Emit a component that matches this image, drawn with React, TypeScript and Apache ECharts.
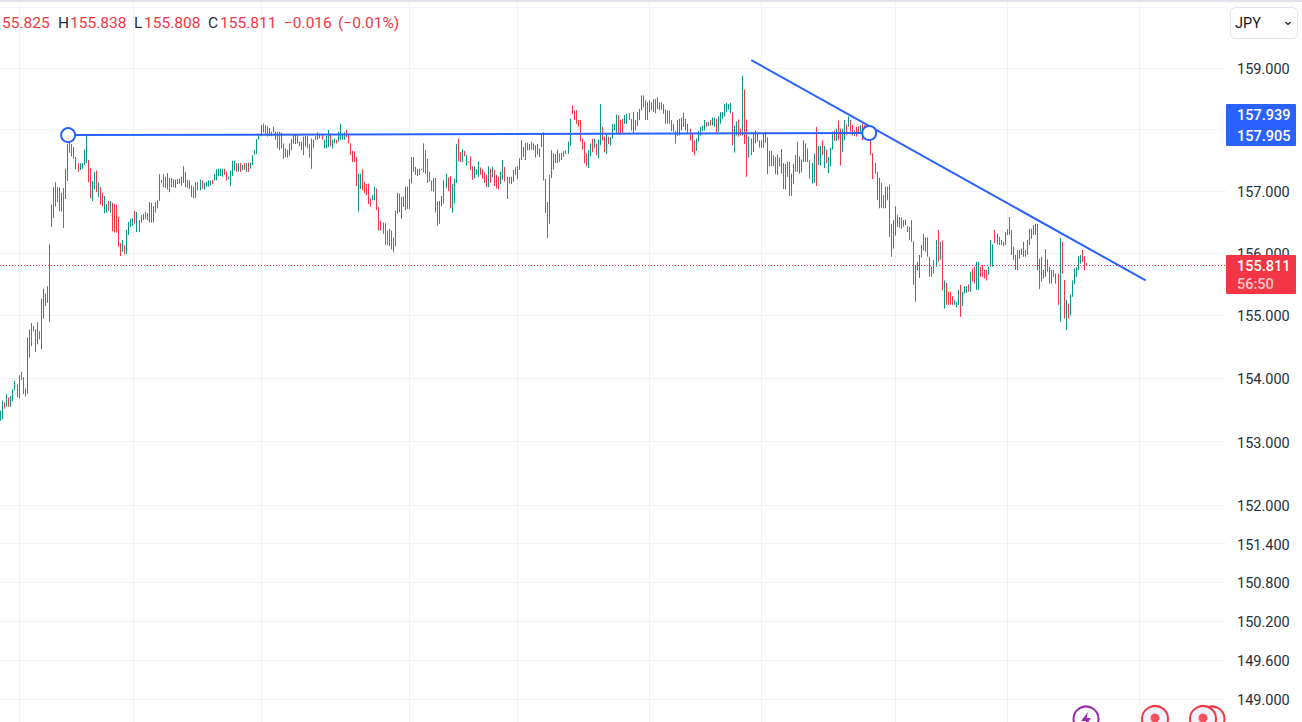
import React, { useEffect, useRef } from "react";
import * as echarts from "echarts";

const highs = [
  153.49,153.65,153.62,153.75,153.70,153.72,153.83,153.96,153.90,154.05,
  154.10,154.02,153.84,154.65,154.78,154.88,154.83,154.78,154.89,154.75,
  155.27,155.43,155.35,155.47,156.14,156.78,157.06,157.14,157.06,157.06,
  156.97,157.05,157.36,157.76,157.78,157.76,157.71,157.55,157.45,157.45,
  157.45,157.67,157.90,157.50,157.37,157.16,157.31,157.33,157.14,157.06,
  156.97,156.92,156.79,156.84,156.84,156.81,156.79,156.78,156.58,156.16,
  156.21,156.13,156.37,156.50,156.55,156.56,156.68,156.66,156.53,156.61,
  156.63,156.66,156.64,156.82,156.81,156.75,156.82,156.85,157.27,157.18,
  157.27,157.23,157.29,157.21,157.21,157.19,157.18,157.19,157.20,157.23,
  157.40,157.31,157.18,157.17,157.09,157.07,157.14,157.14,157.18,157.17,
  157.13,157.15,157.17,157.17,157.18,157.28,157.35,157.36,157.36,157.36,
  157.36,157.31,157.23,157.33,157.49,157.49,157.45,157.45,157.45,157.42,
  157.45,157.45,157.46,157.46,157.58,157.66,157.84,157.93,158.07,158.09,
  158.07,158.05,158.02,157.96,158.04,157.96,157.96,157.96,157.95,157.77,
  157.69,157.67,157.77,157.84,157.91,157.91,157.91,157.80,157.80,157.88,
  157.89,157.89,157.76,157.85,157.83,157.89,157.95,157.93,157.91,157.83,
  157.89,157.99,157.93,157.83,157.85,157.83,157.96,158.09,157.93,157.95,
  157.99,157.91,157.77,157.65,157.64,157.55,157.28,157.28,157.35,157.15,
  157.11,157.12,156.88,156.93,157.07,157.04,156.74,156.52,156.49,156.48,
  156.36,156.39,156.36,156.25,156.68,156.97,156.96,156.90,156.91,157.07,
  157.07,157.19,157.55,157.55,157.39,157.36,157.36,157.36,157.77,157.66,
  157.52,157.31,157.17,157.21,157.21,156.83,156.84,156.92,157.17,157.28,
  157.22,157.24,157.11,157.20,157.76,157.85,157.63,157.68,157.65,157.58,
  157.48,157.56,157.40,157.40,157.35,157.48,157.38,157.35,157.30,157.26,
  157.40,157.36,157.39,157.34,157.26,157.23,157.31,157.50,157.39,157.23,
  157.23,157.23,157.34,157.39,157.40,157.53,157.82,157.71,157.78,157.78,
  157.76,157.80,157.77,157.74,157.76,157.69,157.92,157.95,157.20,156.82,
  157.26,157.66,157.61,157.60,157.67,157.61,157.62,157.65,157.66,157.80,
  158.17,158.39,158.31,158.31,158.15,158.15,157.85,157.80,157.61,157.66,
  157.77,157.85,157.85,157.77,157.83,158.41,158.04,157.88,157.93,157.88,
  157.87,158.09,158.09,158.24,158.23,158.15,158.17,158.23,158.25,158.26,
  158.17,158.28,158.15,158.28,158.33,158.55,158.55,158.47,158.44,158.47,
  158.44,158.49,158.49,158.52,158.44,158.44,158.41,158.32,158.31,158.30,
  158.15,158.09,157.97,158.15,158.17,158.19,158.27,158.17,158.09,158.01,
  157.93,157.82,157.85,157.97,158.04,158.06,158.15,158.12,158.12,158.15,
  158.19,158.19,158.17,158.21,158.28,158.28,158.41,158.43,158.41,158.43,
  158.28,158.06,158.13,158.16,158.01,158.87,158.65,158.16,157.88,157.85,
  157.93,157.98,157.93,157.82,157.82,157.94,157.96,157.87,157.65,157.65,
  157.58,157.55,157.59,157.54,157.68,157.45,157.44,157.47,157.47,157.28,
  157.44,157.58,157.80,157.56,157.51,157.82,157.77,157.69,157.50,157.45,
  157.61,158.04,157.73,157.73,157.82,157.73,157.67,157.55,157.70,157.96,
  157.98,158.01,158.14,158.01,158.01,158.15,158.08,158.21,158.15,158.07,
  157.98,158.04,158.05,158.07,158.09,158.07,158.07,158.01,157.82,157.61,
  157.45,157.31,157.21,157.13,156.93,157.07,157.07,157.10,156.47,156.53,
  156.75,156.61,156.58,156.57,156.53,156.54,156.43,156.42,156.53,156.19,
  155.81,155.86,155.97,156.13,156.31,156.25,156.25,155.94,155.78,155.89,
  156.21,156.37,156.18,156.20,155.56,155.52,155.38,155.38,155.31,155.25,
  155.22,155.41,155.49,155.38,155.47,155.47,155.50,155.70,155.75,155.78,
  155.86,155.86,155.78,155.81,155.73,155.73,155.78,156.21,156.14,156.37,
  156.31,156.26,156.21,156.18,156.34,156.38,156.58,156.37,156.10,155.97,
  156.05,156.05,156.07,156.18,156.05,156.21,156.39,156.39,156.45,156.47,
  156.47,155.91,155.94,155.73,156.06,155.90,155.78,155.73,155.73,155.67,
  155.67,156.24,156.18,155.57,155.25,155.19,155.33,155.56,155.75,155.77,
  155.95,155.97,156.05,155.95,155.84,
];

const lows = [
  153.33,153.35,153.52,153.55,153.55,153.55,153.64,153.81,153.70,153.68,
  153.97,153.75,153.71,153.75,154.33,154.51,154.75,154.42,154.54,154.62,
  154.46,154.95,155.15,155.20,154.90,156.42,156.56,156.75,156.82,156.67,
  156.67,156.40,156.87,157.16,157.62,157.56,157.52,157.35,157.31,157.34,
  157.36,157.42,157.45,157.14,156.88,156.84,157.03,156.98,156.90,156.78,
  156.75,156.64,156.65,156.68,156.65,156.35,156.33,156.33,156.10,155.95,
  156.02,155.98,155.98,156.29,156.42,156.44,156.47,156.34,156.34,156.49,
  156.53,156.55,156.53,156.49,156.49,156.49,156.65,156.72,156.84,157.13,
  157.06,157.05,157.02,156.98,157.06,157.06,157.05,157.11,157.12,157.09,
  157.13,157.06,157.05,157.03,156.90,156.88,156.89,157.01,157.01,157.04,
  157.02,157.07,157.07,157.09,157.11,157.17,157.17,157.24,157.24,157.23,
  157.26,157.17,157.19,157.08,157.24,157.33,157.31,157.31,157.31,157.34,
  157.34,157.31,157.31,157.36,157.42,157.59,157.60,157.83,157.89,157.95,
  157.93,157.88,157.89,157.89,157.95,157.83,157.69,157.66,157.69,157.52,
  157.55,157.54,157.57,157.66,157.77,157.76,157.77,157.72,157.66,157.58,
  157.72,157.69,157.54,157.36,157.69,157.83,157.83,157.85,157.83,157.69,
  157.69,157.71,157.72,157.69,157.77,157.77,157.80,157.83,157.83,157.83,
  157.87,157.77,157.58,157.47,157.47,157.08,156.67,157.03,157.01,156.96,
  156.93,156.79,156.75,156.85,156.85,156.69,156.36,156.36,156.31,156.13,
  156.13,156.11,156.06,156.01,156.11,156.63,156.66,156.55,156.74,156.69,
  156.71,156.71,157.12,157.31,157.26,157.24,157.26,157.34,157.30,157.28,
  157.13,157.15,157.00,156.99,156.65,156.44,156.47,156.75,156.80,157.04,
  157.00,156.72,156.65,156.80,157.13,157.48,157.47,157.47,157.56,157.41,
  157.46,157.34,157.18,157.20,157.26,157.23,157.26,157.20,157.13,157.06,
  157.06,157.13,157.22,157.08,157.04,157.03,157.11,157.18,157.15,156.87,
  157.12,157.11,157.15,157.26,157.19,157.34,157.50,157.55,157.50,157.66,
  157.66,157.67,157.66,157.54,157.59,157.55,157.71,157.17,156.64,156.24,
  156.47,157.21,157.35,157.45,157.45,157.47,157.50,157.55,157.60,157.60,
  157.73,158.25,158.15,158.09,158.04,157.80,157.67,157.45,157.40,157.37,
  157.56,157.63,157.69,157.58,157.53,157.74,157.82,157.63,157.60,157.76,
  157.74,157.85,157.98,157.92,157.91,157.93,157.93,158.09,158.09,158.15,
  157.98,157.93,157.98,158.05,158.15,158.31,158.36,158.15,158.15,158.28,
  158.31,158.28,158.26,158.33,158.31,158.32,158.25,158.09,158.09,158.09,
  157.97,157.96,157.77,157.89,157.90,157.98,158.04,157.98,157.93,157.82,
  157.63,157.58,157.65,157.80,157.90,157.97,157.98,158.04,158.05,158.06,
  158.06,158.04,157.92,157.96,158.09,158.17,158.21,158.28,158.32,158.26,
  157.74,157.62,157.90,157.88,157.90,157.90,157.76,157.23,157.54,157.58,
  157.63,157.77,157.80,157.70,157.70,157.70,157.78,157.27,157.40,157.40,
  157.40,157.27,157.26,157.40,157.28,157.03,157.02,157.23,156.92,156.92,
  157.11,157.31,157.31,157.28,157.30,157.47,157.47,157.47,157.20,157.12,
  157.13,157.08,157.42,157.41,157.58,157.37,157.45,157.29,157.40,157.67,
  157.81,157.81,157.83,157.41,157.63,157.82,157.90,158.04,157.96,157.90,
  157.89,157.88,157.92,157.96,157.82,157.90,157.90,157.88,157.58,157.19,
  157.28,156.85,156.72,156.73,156.72,156.72,156.85,156.26,155.94,156.07,
  156.28,156.42,156.41,156.39,156.42,156.45,156.34,156.21,156.18,155.49,
  155.22,155.72,155.60,155.93,156.04,156.02,155.94,155.62,155.62,155.67,
  155.78,155.86,155.89,155.40,155.11,155.17,155.17,155.17,155.17,155.17,
  155.13,155.17,154.98,155.15,155.35,155.36,155.38,155.38,155.54,155.51,
  155.41,155.41,155.62,155.62,155.59,155.56,155.65,155.78,155.78,156.16,
  156.14,156.13,156.13,156.11,156.13,156.29,156.29,155.97,155.89,155.73,
  155.72,155.91,155.97,155.94,155.94,155.97,156.13,156.23,156.29,156.29,
  155.72,155.42,155.54,155.59,155.62,155.70,155.51,155.51,155.62,155.51,
  155.17,154.90,155.67,154.95,154.77,154.95,155.00,155.30,155.50,155.62,
  155.72,155.83,155.86,155.72,155.81,
];

// g = rising bar, r = falling bar
const directions = [
  "ggrgrgggrg","rrrggrrrgr","gggrggggrr","grgggrrrrg","gggrrggrgr",
  "rggrgrrrrr","grggggrggr","grggrgrggg","rgrrrrgggr","grrrrrgrgr",
  "ggggrggggg","rrggggrgrg","rgrggggggr","rrgrggrrrr","grgggggrgg",
  "grrgrggrrg","ggrggrgggg","rrrrrrggrr","rrrggrrrrr","rgrrggrggg",
  "rggrrgggrr","rrrgrggggg","rrgggrrgrg","rrrgggrrrr","grgrrrggrr",
  "rggrgggggr","grgggggrrr","gggrgrgrrg","grrrrrrrrg","grgrggrrgr",
  "ggggrrrggr","rgrrgggrgg","ggggrrrgrr","rrrgggrgrr","rrgggggrgr",
  "ggrggggggg","rggrrgrrgr","ggrrggrrgr","grgggrgrrg","ggrggggrrg",
  "grggrgrggg","rgrrggrgrr","grrgrrggrr","rrgrrgrrrg","grrrrgrrrr",
  "ggggrgrrrr","grgrgrrrrg","ggrgggrgrr","ggrrrrgggr","rrggggrrrr",
  "rgggrggggg","rrgggrrgrg","rgrrgrgggg","ggrrr",
].join("");

const lastClose = 155.811;
const priceMin = 148.647;
const priceMax = 160.117;
const gridTicks = [149, 149.6, 150.2, 150.8, 151.4, 152, 153, 154, 155, 156, 157, 158, 159, 160];
const labelTicks = [149, 149.6, 150.2, 150.8, 151.4, 152, 153, 154, 155, 156, 157, 159];
const verticalGridBars = [9, 65, 128, 201, 254, 319, 374, 440, 495, 560];
const rightPadBars = 68;

const supportLine = [[33, 157.905], [427, 157.939]];
const resistanceLine = [[369, 159.13], [563, 155.56]];

const legendTexts = [
  { text: "55.825", x: 2, color: "#f23645" },
  { text: "H", x: 58, color: "#2a2e39" },
  { text: "155.838", x: 70, color: "#f23645" },
  { text: "L", x: 134, color: "#2a2e39" },
  { text: "155.808", x: 144, color: "#f23645" },
  { text: "C", x: 208, color: "#2a2e39" },
  { text: "155.811", x: 220, color: "#f23645" },
  { text: "\u22120.016", x: 284, color: "#f23645" },
  { text: "(\u22120.01%)", x: 338, color: "#f23645" },
];

const FONT = "Roboto, sans-serif";
const BLUE = "#2962ff";
const RED = "#f23645";
const GREEN = "#089981";
const GRID = "#f0f3fa";

echarts.graphic.registerShape(
  "bolt",
  echarts.graphic.extendPath("M7 0L0 9L5 9L3 16L10 6L5.5 6Z", {}) as any
);

export default function App() {
  const ref = useRef<HTMLDivElement>(null);

  useEffect(() => {
    const chart = echarts.init(ref.current!, undefined, { renderer: "svg" });
    const total = highs.length + rightPadBars;
    const categories = Array.from({ length: total }, (_, i) => String(i));
    const candles = highs.map((h, i) =>
      directions[i] === "g" ? [lows[i], h, lows[i], h] : [h, lows[i], lows[i], h]
    );
    const vset = new Set(verticalGridBars);

    const tagText = (text: string, x: number, y: number, fill = "#ffffff") => ({
      type: "text",
      z: 20,
      x,
      y,
      style: { text, fill, font: `500 14.5px ${FONT}`, textAlign: "left", textVerticalAlign: "middle" },
    });

    chart.setOption({
      animation: false,
      backgroundColor: "#ffffff",
      grid: { left: 0, right: 76, top: 0, bottom: 0, containLabel: false },
      xAxis: {
        type: "category",
        data: categories,
        axisLine: { show: false },
        axisTick: { show: false },
        axisLabel: { show: false },
        splitLine: {
          show: true,
          alignWithLabel: true,
          interval: (i: number) => vset.has(i),
          lineStyle: { color: GRID, width: 1 },
        },
      },
      yAxis: {
        type: "log",
        logBase: 10,
        position: "right",
        min: priceMin,
        max: priceMax,
        axisLine: { show: false },
        axisTick: { show: false, customValues: gridTicks },
        axisLabel: {
          customValues: labelTicks,
          margin: 11,
          verticalAlign: "top",
          lineHeight: 3,
          color: "#2a2e39",
          fontFamily: FONT,
          fontSize: 14.5,
          formatter: (v: number) => v.toFixed(3),
        },
        splitLine: { show: true, lineStyle: { color: GRID, width: 1 } },
      },
      series: [
        {
          type: "candlestick",
          data: candles,
          barWidth: 1,
          z: 3,
          itemStyle: { color: GREEN, color0: RED, borderColor: GREEN, borderColor0: RED, borderWidth: 1 },
          markLine: {
            silent: true,
            symbol: "none",
            label: { show: false },
            lineStyle: { type: [1, 2], color: RED, width: 1 },
            data: [{ yAxis: lastClose }],
          },
        },
        {
          type: "line",
          data: supportLine,
          z: 6,
          symbol: "circle",
          symbolSize: 14,
          showSymbol: true,
          showAllSymbol: true,
          lineStyle: { color: BLUE, width: 2 },
          itemStyle: { color: "#ffffff", borderColor: BLUE, borderWidth: 2 },
        },
        {
          type: "line",
          data: resistanceLine,
          z: 5,
          symbol: "none",
          lineStyle: { color: BLUE, width: 2 },
        },
      ],
      graphic: [
        { type: "rect", z: 20, shape: { x: 0, y: 0, width: 1302, height: 2 }, style: { fill: "#e0e3eb" } },
        ...legendTexts.map((t) => ({
          type: "text",
          z: 20,
          x: t.x,
          y: 23,
          style: { text: t.text, fill: t.color, font: `15.5px ${FONT}`, textVerticalAlign: "middle" },
        })),
        {
          type: "rect",
          z: 20,
          shape: { x: 1230.5, y: 7.5, width: 67, height: 31, r: 5 },
          style: { fill: "#ffffff", stroke: "#e0e3eb", lineWidth: 1 },
        },
        {
          type: "text",
          z: 21,
          x: 1235,
          y: 23.5,
          style: { text: "JPY", fill: "#131722", font: `14.5px ${FONT}`, textVerticalAlign: "middle" },
        },
        {
          type: "polyline",
          z: 21,
          shape: { points: [[1285.5, 22], [1288, 24.5], [1290.5, 22]] },
          style: { stroke: "#131722", fill: "none", lineWidth: 1.2 },
        },
        { type: "rect", z: 20, shape: { x: 1226, y: 104, width: 70, height: 42, r: 1 }, style: { fill: BLUE } },
        tagText("157.939", 1237, 115),
        tagText("157.905", 1237, 136),
        { type: "rect", z: 20, shape: { x: 1226, y: 255, width: 70, height: 39, r: 1 }, style: { fill: RED } },
        tagText("155.811", 1237, 266),
        tagText("56:50", 1237, 284, "#fcc6cb"),
        {
          type: "circle",
          z: 12,
          shape: { cx: 1086, cy: 719, r: 12.5 },
          style: { fill: "#ffffff", stroke: "#9c27b0", lineWidth: 2 },
        },
        { type: "bolt", z: 13, x: 1081, y: 712, style: { fill: "#9c27b0" } },
        {
          type: "circle",
          z: 12,
          shape: { cx: 1155, cy: 719, r: 13 },
          style: { fill: "#f0f3fa", stroke: "#f23645", lineWidth: 2 },
        },
        { type: "circle", z: 13, shape: { cx: 1155, cy: 718, r: 4.5 }, style: { fill: "#f7525f" } },
        {
          type: "circle",
          z: 12,
          shape: { cx: 1212, cy: 719, r: 12.5 },
          style: { fill: "#f0f3fa", stroke: "#f23645", lineWidth: 2 },
        },
        {
          type: "circle",
          z: 13,
          shape: { cx: 1203, cy: 719, r: 13 },
          style: { fill: "#f0f3fa", stroke: "#f23645", lineWidth: 2 },
        },
        { type: "circle", z: 14, shape: { cx: 1203, cy: 718, r: 4.5 }, style: { fill: "#f7525f" } },
      ],
    });
    return () => chart.dispose();
  }, []);

  return <div ref={ref} style={{ position: "absolute", left: 0, top: 0, width: 1302, height: 722 }} />;
}
